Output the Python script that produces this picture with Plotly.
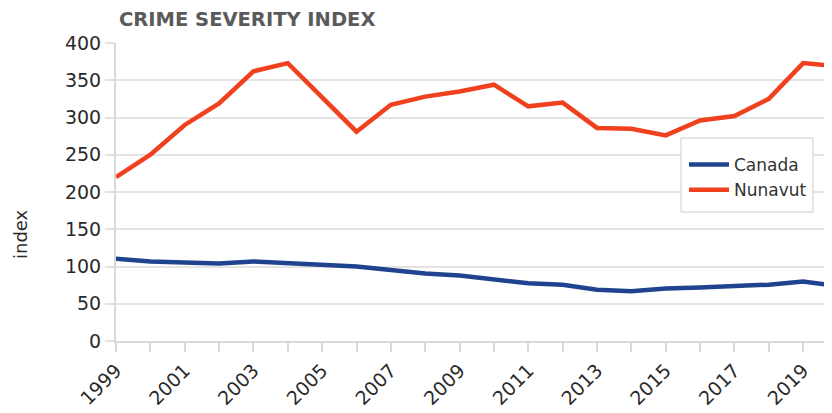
import plotly.graph_objects as go

years = list(range(1999, 2021))
canada = [110.5, 106.8, 105.3, 104.1, 106.8, 104.1, 101.3, 100.0, 95.3, 90.6, 87.8,
          82.7, 77.6, 75.4, 68.8, 66.9, 70.4, 71.9, 73.6, 75.6, 79.8, 73.9]
nunavut = [220, 250, 290, 319, 362, 373, 327, 281, 317, 328, 335,
           344, 315, 320, 286, 285, 276, 296, 302, 325, 373, 369]
tick_years = list(range(1999, 2021, 2))
y_ticks = [0, 50, 100, 150, 200, 250, 300, 350, 400]

# page body has an 8px default margin, so figure coords = window coords - 8
OFF = 8
L, T, W, H = 116 - OFF, 43 - OFF, 716, 298
FW, FH = 832, 413


def px_x(x):
    return (x - OFF - L) / W


def px_y(y):
    return (T + H - (y - OFF)) / H


fig = go.Figure()
fig.add_trace(go.Scatter(x=years, y=canada, name="Canada", mode="lines",
                         line=dict(color="#20438f", width=4.5)))
fig.add_trace(go.Scatter(x=years, y=nunavut, name="Nunavut", mode="lines",
                         line=dict(color="#f0401e", width=4.5)))

fig.update_layout(
    width=FW, height=FH,
    margin=dict(l=L, r=FW - L - W, t=T, b=FH - T - H, autoexpand=False),
    paper_bgcolor="white", plot_bgcolor="white",
    font=dict(family="DejaVu Sans, sans-serif", color="#2a2a2a"),
    showlegend=True,
    legend=dict(x=px_x(684), y=px_y(147), xanchor="left", yanchor="top",
                bgcolor="rgba(0,0,0,0)", borderwidth=0,
                font=dict(size=17, color="#333333"), itemwidth=40),
    shapes=[dict(type="rect", xref="paper", yref="paper", layer="above",
                 x0=px_x(681), x1=px_x(813), y0=px_y(212), y1=px_y(138),
                 fillcolor="white", line=dict(color="#cccccc", width=1))],
    annotations=[
        dict(text="<b>CRIME SEVERITY INDEX</b>", xref="paper", yref="paper",
             x=px_x(117), y=px_y(20), xanchor="left", yanchor="middle",
             showarrow=False,
             font=dict(family="DejaVu Sans, sans-serif", size=19.5, color="#5a5a5a")),
        dict(text="index", xref="paper", yref="paper", textangle=-90,
             x=px_x(20), y=px_y(234), xanchor="center", yanchor="middle",
             showarrow=False, font=dict(size=18, color="#2a2a2a")),
    ],
)

fig.update_xaxes(range=[1999, 2019.84], tickvals=tick_years,
                 ticktext=[str(t) for t in tick_years], tickangle=-45,
                 tickfont=dict(size=19, color="#2a2a2a"), automargin=False,
                 showgrid=False, showline=True, linecolor="#d9d9d9", linewidth=2,
                 ticks="outside", ticklen=9, tickcolor="#d9d9d9", tickwidth=2,
                 minor=dict(dtick=1, tick0=1999, ticks="outside", ticklen=9,
                            tickcolor="#d9d9d9", tickwidth=2, showgrid=False),
                 zeroline=False)
fig.update_yaxes(range=[0, 400], tickvals=y_ticks, automargin=False,
                 tickfont=dict(size=19, color="#2a2a2a"),
                 showgrid=True, gridcolor="#e3e3e3", gridwidth=2,
                 showline=True, linecolor="#d9d9d9", linewidth=2,
                 ticks="outside", ticklen=9, tickcolor="#e3e3e3", tickwidth=2,
                 zeroline=False)

fig.write_html("out.html")
